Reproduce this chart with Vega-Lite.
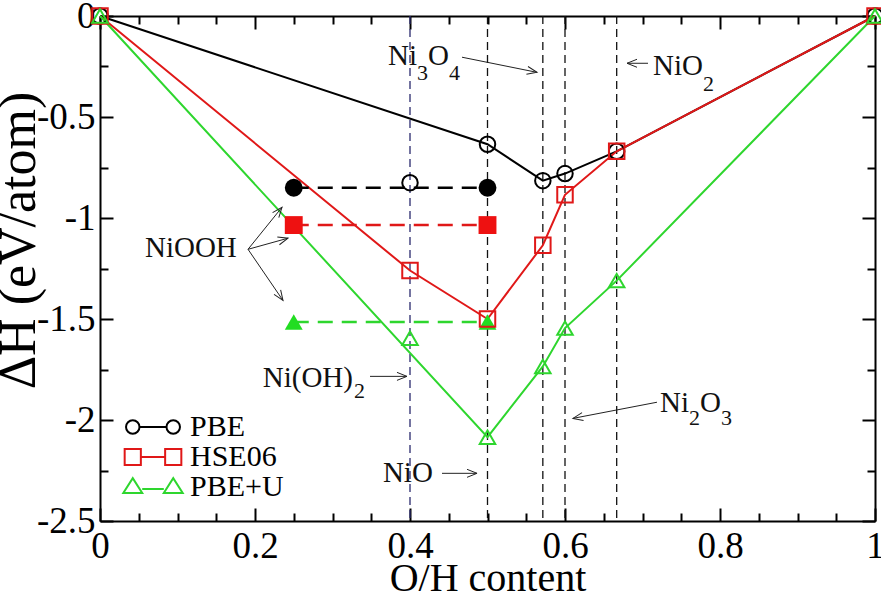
{
  "$schema": "https://vega.github.io/schema/vega-lite/v6.json",
  "width": 775,
  "height": 505,
  "autosize": {"type": "none"},
  "padding": {"left": 100, "top": 16, "right": 6, "bottom": 81},
  "background": "white",
  "config": {
    "view": {"stroke": null},
    "font": "Liberation Serif",
    "axis": {"grid": false, "domainColor": "black", "domainWidth": 2, "tickColor": "black", "tickWidth": 2, "labelColor": "black", "titleColor": "black", "labelFont": "Liberation Serif", "titleFont": "Liberation Serif", "titleFontWeight": "normal", "labelFlush": false, "labelOverlap": false}
  },
  "datasets": {
    "pts": [
      {"series": "PBE", "x": 0, "y": 0, "hull": true},
      {"series": "PBE", "x": 0.4, "y": -0.825, "hull": false},
      {"series": "PBE", "x": 0.5, "y": -0.635, "hull": true},
      {"series": "PBE", "x": 0.5714, "y": -0.815, "hull": true},
      {"series": "PBE", "x": 0.6, "y": -0.78, "hull": true},
      {"series": "PBE", "x": 0.6667, "y": -0.67, "hull": true},
      {"series": "PBE", "x": 1, "y": 0, "hull": true},
      {"series": "HSE06", "x": 0, "y": 0, "hull": true},
      {"series": "HSE06", "x": 0.4, "y": -1.26, "hull": true},
      {"series": "HSE06", "x": 0.5, "y": -1.5, "hull": true},
      {"series": "HSE06", "x": 0.5714, "y": -1.135, "hull": true},
      {"series": "HSE06", "x": 0.6, "y": -0.885, "hull": true},
      {"series": "HSE06", "x": 0.6667, "y": -0.67, "hull": true},
      {"series": "HSE06", "x": 1, "y": 0, "hull": true},
      {"series": "PBE+U", "x": 0, "y": 0, "hull": true},
      {"series": "PBE+U", "x": 0.4, "y": -1.595, "hull": false},
      {"series": "PBE+U", "x": 0.5, "y": -2.085, "hull": true},
      {"series": "PBE+U", "x": 0.5714, "y": -1.735, "hull": true},
      {"series": "PBE+U", "x": 0.6, "y": -1.545, "hull": true},
      {"series": "PBE+U", "x": 0.6667, "y": -1.31, "hull": true},
      {"series": "PBE+U", "x": 1, "y": 0, "hull": true}
    ],
    "niooh": [
      {"series": "PBE", "x": 0.25, "y": -0.85},
      {"series": "PBE", "x": 0.5, "y": -0.85},
      {"series": "HSE06", "x": 0.25, "y": -1.035},
      {"series": "HSE06", "x": 0.5, "y": -1.035},
      {"series": "PBE+U", "x": 0.25, "y": -1.515},
      {"series": "PBE+U", "x": 0.5, "y": -1.515}
    ],
    "vlines": [
      {"phase": "Ni(OH)2", "x": 0.4},
      {"phase": "NiO", "x": 0.5},
      {"phase": "Ni3O4", "x": 0.5714},
      {"phase": "Ni2O3", "x": 0.6},
      {"phase": "NiO2", "x": 0.6667}
    ],
    "arrows": [
      {"label": "Ni3O4", "ax": 0.4671, "ay": -0.204, "bx": 0.5639, "by": -0.279},
      {"label": "NiO2", "ax": 0.7071, "ay": -0.234, "bx": 0.68, "by": -0.234},
      {"label": "NiOOH", "ax": 0.191, "ay": -1.155, "bx": 0.2348, "by": -0.947},
      {"label": "NiOOH", "ax": 0.191, "ay": -1.155, "bx": 0.2426, "by": -1.1},
      {"label": "NiOOH", "ax": 0.191, "ay": -1.155, "bx": 0.2361, "by": -1.408},
      {"label": "Ni(OH)2", "ax": 0.3484, "ay": -1.784, "bx": 0.3961, "by": -1.784},
      {"label": "NiO", "ax": 0.4413, "ay": -2.264, "bx": 0.4865, "by": -2.264},
      {"label": "Ni2O3", "ax": 0.7187, "ay": -1.912, "bx": 0.6103, "by": -1.992}
    ],
    "labels": [
      {"text": "NiOOH", "x": 0.058, "y": -1.195},
      {"text": "Ni(OH)", "x": 0.21, "y": -1.838},
      {"text": "NiO", "x": 0.365, "y": -2.308},
      {"text": "Ni", "x": 0.7226, "y": -1.962},
      {"text": "O", "x": 0.7742, "y": -1.962},
      {"text": "Ni", "x": 0.3716, "y": -0.244},
      {"text": "O", "x": 0.4232, "y": -0.244},
      {"text": "NiO", "x": 0.7135, "y": -0.2935}
    ],
    "subs": [
      {"text": "2", "x": 0.3277, "y": -1.893},
      {"text": "2", "x": 0.76, "y": -2.026},
      {"text": "3", "x": 0.8013, "y": -2.026},
      {"text": "3", "x": 0.409, "y": -0.318},
      {"text": "4", "x": 0.4503, "y": -0.318},
      {"text": "2", "x": 0.778, "y": -0.37}
    ]
  },
  "layer": [
    {
      "data": {"name": "niooh"},
      "mark": {"type": "point", "filled": false, "strokeWidth": 2, "opacity": 0},
      "encoding": {
        "x": {"field": "x", "type": "quantitative", "scale": {"domain": [0, 1], "nice": false},
          "axis": {"orient": "bottom", "offset": -505, "values": [0.05, 0.1, 0.15, 0.25, 0.3, 0.35, 0.45, 0.5, 0.55, 0.65, 0.7, 0.75, 0.85, 0.9, 0.95], "tickSize": 8, "labels": false, "domain": false, "title": null}},
        "y": {"field": "y", "type": "quantitative", "scale": {"domain": [-2.5, 0], "nice": false},
          "axis": {"orient": "left", "offset": -775, "values": [-2.25, -1.75, -1.25, -0.75, -0.25], "tickSize": 8, "labels": false, "domain": false, "title": null}},
        "color": {"field": "series", "type": "nominal", "scale": {"domain": ["PBE", "HSE06", "PBE+U"], "range": ["#000000", "#e01818", "#2ed62e"]},
          "legend": {"orient": "none", "legendX": 38, "legendY": 396, "title": null, "symbolSize": 182, "symbolStrokeWidth": 2, "symbolOpacity": 1, "symbolFillColor": "transparent", "labelFont": "Liberation Serif", "labelFontSize": 30, "labelColor": "black", "labelOffset": 22, "rowPadding": 0, "padding": 0}},
        "shape": {"field": "series", "type": "nominal", "scale": {"domain": ["PBE", "HSE06", "PBE+U"], "range": [
            "M -2 0 A 1 1 0 1 0 -4 0 A 1 1 0 1 0 -2 0 M -2 0 L 2 0 M 4 0 A 1 1 0 1 0 2 0 A 1 1 0 1 0 4 0",
            "M -4.2 -1.2 L -1.8 -1.2 L -1.8 1.2 L -4.2 1.2 Z M -1.8 0 L 1.8 0 M 1.8 -1.2 L 4.2 -1.2 L 4.2 1.2 L 1.8 1.2 Z",
            "M -4.4 0.9 L -1.6 0.9 L -3 -1.3 Z M -1.6 0.3 L 1.6 0.3 M 1.6 0.9 L 4.4 0.9 L 3 -1.3 Z"]}}
      }
    },
    {
      "data": {"name": "vlines"},
      "mark": {"type": "rule", "strokeDash": [8, 5], "strokeWidth": 1.3},
      "encoding": {
        "x": {"field": "x", "type": "quantitative", "scale": {"domain": [0, 1], "nice": false}, "axis": null},
        "stroke": {"condition": {"test": "datum.phase === 'Ni(OH)2'", "value": "#2a2a6e"}, "value": "#111111"}
      }
    },
    {
      "data": {"name": "pts"},
      "transform": [{"filter": "datum.hull"}],
      "mark": {"type": "line", "strokeWidth": 2},
      "encoding": {
        "x": {"field": "x", "type": "quantitative", "scale": {"domain": [0, 1], "nice": false},
          "axis": {"orient": "bottom", "values": [0, 0.2, 0.4, 0.6, 0.8, 1], "ticks": false, "tickSize": 0, "labelFontSize": 37, "labelPadding": 7, "labelExpr": "'' + datum.value", "title": "O/H content", "titleFontSize": 40, "titleBaseline": "alphabetic", "titleY": 69}},
        "y": {"field": "y", "type": "quantitative", "scale": {"domain": [-2.5, 0], "nice": false},
          "axis": {"orient": "left", "values": [-2.5, -2, -1.5, -1, -0.5, 0], "ticks": false, "tickSize": 0, "labelFontSize": 37, "labelPadding": 5, "labelExpr": "'' + datum.value", "title": "ΔH (eV/atom)", "titleFontSize": 52, "titleBaseline": "alphabetic", "titleX": -66, "titleY": 224}},
        "stroke": {"field": "series", "type": "nominal", "scale": {"domain": ["HSE06", "PBE", "PBE+U"], "range": ["#e01818", "#000000", "#2ed62e"]}, "legend": null}
      }
    },
    {
      "data": {"name": "niooh"},
      "mark": {"type": "line", "strokeWidth": 2.5, "strokeDash": [15, 9]},
      "encoding": {
        "x": {"field": "x", "type": "quantitative", "scale": {"domain": [0, 1], "nice": false},
          "axis": {"orient": "top", "offset": -505, "values": [0, 0.2, 0.4, 0.6, 0.8, 1], "tickSize": 13, "labels": false, "domain": false, "title": null}},
        "y": {"field": "y", "type": "quantitative", "scale": {"domain": [-2.5, 0], "nice": false},
          "axis": {"orient": "right", "offset": -775, "values": [-2.5, -2, -1.5, -1, -0.5, 0], "tickSize": 13, "labels": false, "domain": false, "title": null}},
        "stroke": {"field": "series", "type": "nominal", "legend": null}
      }
    },
    {
      "data": {"name": "niooh"},
      "mark": {"type": "point", "filled": true, "opacity": 1, "size": 320, "strokeWidth": 0},
      "encoding": {
        "x": {"field": "x", "type": "quantitative", "scale": {"domain": [0, 1], "nice": false},
          "axis": {"orient": "bottom", "offset": -505, "values": [0, 0.2, 0.4, 0.6, 0.8, 1], "tickSize": 13, "labels": false, "domain": true, "title": null}},
        "y": {"field": "y", "type": "quantitative", "scale": {"domain": [-2.5, 0], "nice": false},
          "axis": {"orient": "left", "offset": -775, "values": [-2.5, -2, -1.5, -1, -0.5, 0], "tickSize": 13, "labels": false, "domain": true, "title": null}},
        "fill": {"field": "series", "type": "nominal", "scale": {"domain": ["PBE+U", "HSE06", "PBE"], "range": ["#22dd22", "#ee1111", "#000000"]}, "legend": null},
        "shape": {"condition": [{"test": "datum.series === 'PBE'", "value": "circle"}, {"test": "datum.series === 'HSE06'", "value": "square"}], "value": "triangle-up"}
      }
    },
    {
      "data": {"name": "pts"},
      "mark": {"type": "point", "filled": false, "strokeWidth": 2, "opacity": 1, "size": 240},
      "encoding": {
        "x": {"field": "x", "type": "quantitative", "scale": {"domain": [0, 1], "nice": false},
          "axis": {"orient": "top", "offset": -505, "values": [0.05, 0.1, 0.15, 0.25, 0.3, 0.35, 0.45, 0.5, 0.55, 0.65, 0.7, 0.75, 0.85, 0.9, 0.95], "tickSize": 8, "labels": false, "domain": false, "title": null}},
        "y": {"field": "y", "type": "quantitative", "scale": {"domain": [-2.5, 0], "nice": false},
          "axis": {"orient": "right", "offset": -775, "values": [-2.25, -1.75, -1.25, -0.75, -0.25], "tickSize": 8, "labels": false, "domain": false, "title": null}},
        "stroke": {"field": "series", "type": "nominal", "legend": null},
        "shape": {"condition": [{"test": "datum.series === 'PBE'", "value": "circle"}, {"test": "datum.series === 'HSE06'", "value": "square"}], "value": "triangle-up"}
      }
    },
    {
      "data": {"name": "arrows"},
      "mark": {"type": "rule", "strokeWidth": 1, "color": "#222222"},
      "encoding": {
        "x": {"field": "ax", "type": "quantitative", "axis": null},
        "y": {"field": "ay", "type": "quantitative", "axis": null},
        "x2": {"field": "bx"},
        "y2": {"field": "by"}
      }
    },
    {
      "data": {"name": "arrows"},
      "transform": [{"calculate": "atan2(-(datum.by - datum.ay) * 202.1, (datum.bx - datum.ax) * 775) * 180 / PI", "as": "ang"}],
      "mark": {"type": "point", "shape": "M -2 -0.8 L 0 0 L -2 0.8", "filled": false, "strokeWidth": 1, "color": "#222222", "opacity": 1, "size": 100},
      "encoding": {
        "x": {"field": "bx", "type": "quantitative", "axis": null},
        "y": {"field": "by", "type": "quantitative", "axis": null},
        "angle": {"field": "ang", "type": "quantitative", "scale": null}
      }
    },
    {
      "data": {"name": "labels"},
      "mark": {"type": "text", "align": "left", "baseline": "alphabetic", "font": "Liberation Serif", "fontSize": 29, "color": "#111111"},
      "encoding": {
        "x": {"field": "x", "type": "quantitative", "axis": null},
        "y": {"field": "y", "type": "quantitative", "axis": null},
        "text": {"field": "text"}
      }
    },
    {
      "data": {"name": "subs"},
      "mark": {"type": "text", "align": "left", "baseline": "alphabetic", "font": "Liberation Serif", "fontSize": 22, "color": "#111111"},
      "encoding": {
        "x": {"field": "x", "type": "quantitative", "axis": null},
        "y": {"field": "y", "type": "quantitative", "axis": null},
        "text": {"field": "text"}
      }
    }
  ],
  "resolve": {"axis": {"x": "independent", "y": "independent"}}
}
